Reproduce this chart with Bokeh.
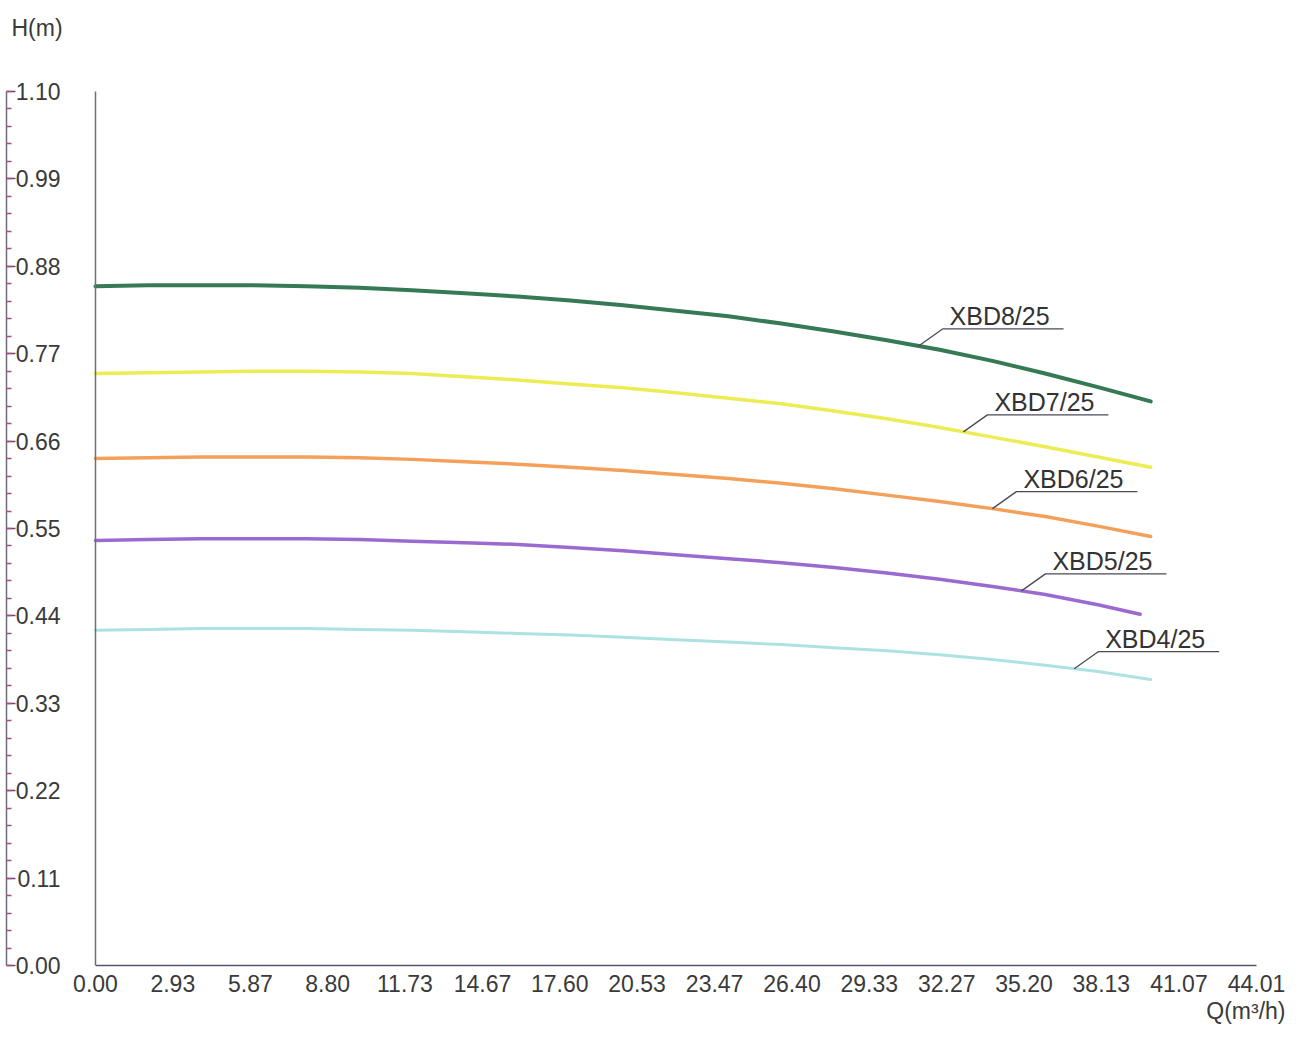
import numpy as np
from bokeh.plotting import figure
from bokeh.models import FixedTicker, NumeralTickFormatter, Title, Label, LinearAxis
from bokeh.embed import file_html
from bokeh.resources import INLINE
from bokeh.core.properties import value

# ---------------- data ----------------
series_names = ["XBD8/25", "XBD7/25", "XBD6/25", "XBD5/25", "XBD4/25"]

q_grid = [0, 2, 4, 6, 8, 10, 12, 14, 16, 18, 20, 22, 24, 26, 28, 30, 32, 34, 36, 38, 40]
q_grid_xbd5 = [0, 2, 4, 6, 8, 10, 12, 14, 16, 18, 20, 22, 24, 26, 28, 30, 32, 34, 36, 38, 39.6]

h_xbd8 = [0.855, 0.856, 0.856, 0.856, 0.855, 0.853, 0.850, 0.846, 0.842, 0.837, 0.831,
          0.824, 0.817, 0.808, 0.798, 0.787, 0.775, 0.761, 0.745, 0.728, 0.710]
h_xbd7 = [0.745, 0.746, 0.747, 0.748, 0.748, 0.747, 0.745, 0.741, 0.737, 0.732, 0.727,
          0.721, 0.714, 0.707, 0.698, 0.688, 0.677, 0.665, 0.653, 0.640, 0.627]
h_xbd6 = [0.638, 0.639, 0.640, 0.640, 0.640, 0.639, 0.637, 0.634, 0.631, 0.627, 0.623,
          0.618, 0.613, 0.607, 0.600, 0.592, 0.584, 0.575, 0.565, 0.553, 0.540]
h_xbd5 = [0.535, 0.536, 0.537, 0.537, 0.537, 0.536, 0.534, 0.532, 0.530, 0.526, 0.522,
          0.517, 0.512, 0.507, 0.501, 0.494, 0.486, 0.477, 0.467, 0.454, 0.442]
h_xbd4 = [0.422, 0.423, 0.424, 0.424, 0.424, 0.423, 0.422, 0.420, 0.418, 0.416, 0.413,
          0.410, 0.407, 0.404, 0.400, 0.396, 0.391, 0.385, 0.378, 0.370, 0.360]

x_tick_values = [0.00, 2.93, 5.87, 8.80, 11.73, 14.67, 17.60, 20.53, 23.47,
                 26.40, 29.33, 32.27, 35.20, 38.13, 41.07, 44.01]
y_tick_values = [0.00, 0.11, 0.22, 0.33, 0.44, 0.55, 0.66, 0.77, 0.88, 0.99, 1.10]
x_max, y_max = 44.01, 1.10

# label anchor (Q where the leader line touches each curve)
label_anchor_q = [31.2, 32.9, 34.0, 35.1, 37.1]

# ---------------- styles / layout ----------------
colors = ["#357a55", "#ecec55", "#f5a05a", "#9a6ad0", "#ade2e2"]
widths = [4, 3.5, 3.5, 3.5, 3]

W, H = 1291, 1035
border_left = 6
axis_top_px = 91          # canvas y of the H = 1.10 level
plot_h = 874              # pixels from H = 0 to H = 1.10
frame_w = W - border_left
frame_h = axis_top_px + plot_h
border_bottom = H - frame_h

px_x = 26.38
x0 = -(95 - border_left) / px_x
x1 = x0 + frame_w / px_x
px_y = plot_h / y_max
y0 = 0.0
y1 = y_max + axis_top_px / px_y

FONT = "Liberation Sans"
TXT = "#3a3a3a"

p = figure(width=W, height=H, x_range=(x0, x1), y_range=(y0, y1),
           output_backend="svg", toolbar_location=None,
           min_border_left=border_left, min_border_right=0,
           min_border_top=0, min_border_bottom=border_bottom)
p.outline_line_color = None
p.grid.visible = False
p.background_fill_color = "white"
p.border_fill_color = "white"

# y axis: line at frame left, ticks and labels pointing into the plot
yax = p.yaxis[0]
yax.bounds = (0, y_max)
yax.ticker = FixedTicker(ticks=y_tick_values,
                         minor_ticks=list(np.round(np.arange(0, 1.1001, 0.022), 3)))
yax.formatter = NumeralTickFormatter(format="0.00")
yax.axis_line_color = "#6e6e78"
yax.axis_line_width = 1.5
yax.major_tick_in = 9
yax.major_tick_out = 0
yax.minor_tick_in = 5
yax.minor_tick_out = 0
yax.major_tick_line_color = "#6a4a82"
yax.major_tick_line_width = 1.5
yax.minor_tick_line_color = "#b44a7c"
yax.minor_tick_line_width = 1.5
yax.major_label_standoff = -54
yax.major_label_text_font = FONT
yax.major_label_text_font_size = "23px"
yax.major_label_text_color = TXT

# vertical line at Q = 0 (bare axis, no ticks)
vax = LinearAxis(fixed_location=0, bounds=(0, y_max), ticker=FixedTicker(ticks=[]),
                 axis_line_color="#707070", axis_line_width=1.5,
                 major_tick_line_color=None, minor_tick_line_color=None,
                 major_label_text_font_size="0px")
p.add_layout(vax, "left")

# x axis
xax = p.xaxis[0]
xax.ticker = FixedTicker(ticks=x_tick_values)
xax.formatter = NumeralTickFormatter(format="0.00")
xax.bounds = (0, x_max)
xax.axis_line_color = "#5a5070"
xax.axis_line_width = 1.5
xax.major_tick_in = 0
xax.major_tick_out = 0
xax.minor_tick_line_color = None
xax.major_label_standoff = 9
xax.major_label_text_font = FONT
xax.major_label_text_font_size = "23px"
xax.major_label_text_color = TXT

# curves
qs = [q_grid, q_grid, q_grid, q_grid_xbd5, q_grid]
hs = [h_xbd8, h_xbd7, h_xbd6, h_xbd5, h_xbd4]
for q, h, c, w in zip(qs, hs, colors, widths):
    p.line(q, h, line_color=c, line_width=w, line_cap="round", line_join="round")

# curve labels with leader lines
lead_dx, lead_dy, under_len = 24 / px_x, 17 / px_y, 121 / px_x
for name, q, h, qa in zip(series_names, qs, hs, label_anchor_q):
    ha = float(np.interp(qa, q, h))
    xs = [qa, qa + lead_dx, qa + lead_dx + under_len]
    ys = [ha, ha + lead_dy, ha + lead_dy]
    p.line(xs, ys, line_color="#4a4a5a", line_width=1.3)
    p.text(x=[qa + lead_dx + 7 / px_x], y=[ha + lead_dy - 1 / px_y], text=[name],
           text_font=value(FONT), text_font_size="25px", text_color="#333333",
           text_align="left", text_baseline="bottom")

# axis titles
p.add_layout(Label(x=x0, y=y_max, x_offset=5, y_offset=64, text="H(m)",
                   text_font=FONT, text_font_size="23px", text_color=TXT,
                   text_align="left", text_baseline="middle"))
p.add_layout(Title(text="Q(m\u00b3/h)", align="right", offset=6, standoff=2,
                   text_font=FONT, text_font_size="23px", text_color=TXT,
                   text_font_style="normal"), "below")

open("out.html", "w").write(file_html(p, INLINE))
